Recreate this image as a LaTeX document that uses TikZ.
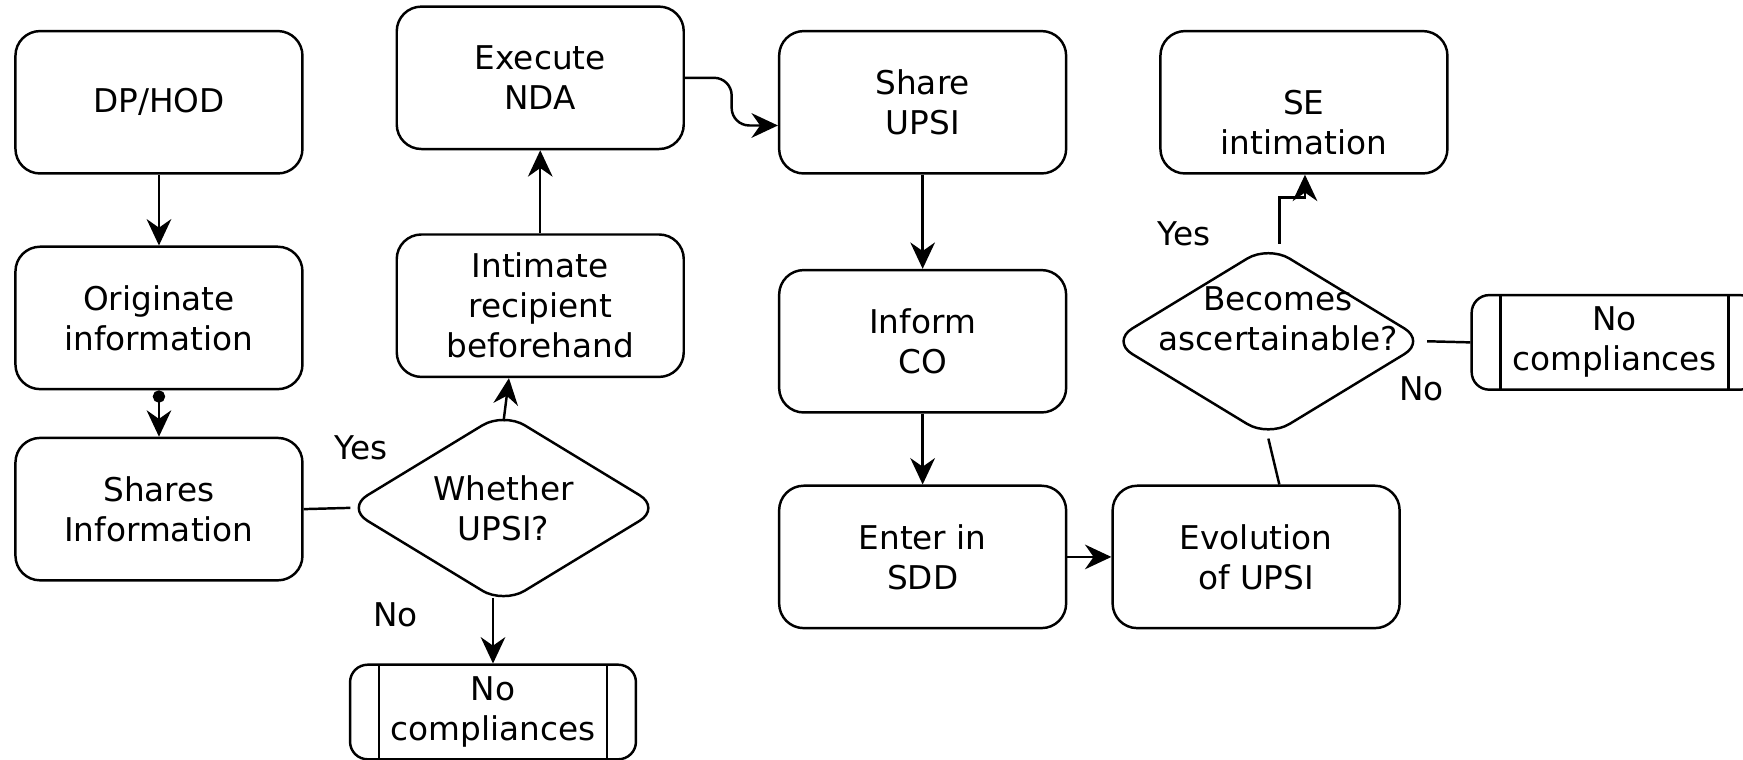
\documentclass[tikz,border=0pt]{standalone}
\usepackage{fontspec}
\setmainfont{DejaVu Sans}
\usetikzlibrary{shapes.geometric,arrows.meta}

\begin{document}
\begin{tikzpicture}[x=0.011116cm, y=-0.011116cm, line width=0.7pt,
        font=\fontsize{9.3}{11.4}\selectfont,
        box/.style={draw, rounded corners=7pt, minimum width=2.868cm, minimum height=1.423cm, inner sep=0pt, align=center},
        decision/.style={draw, diamond, rounded corners=7pt, minimum width=3.15cm, minimum height=1.92cm, inner sep=0pt, align=center},
        process/.style={draw, rounded corners=5pt, minimum width=2.857cm, minimum height=0.945cm, inner sep=0pt, align=center,
            path picture={\draw ([xshift=0.29cm]path picture bounding box.north west) -- ([xshift=0.29cm]path picture bounding box.south west)
                ([xshift=-0.29cm]path picture bounding box.north east) -- ([xshift=-0.29cm]path picture bounding box.south east);}},
        arr/.style={-{Stealth[length=7.5pt,width=7pt]}}]
    \useasboundingbox (0,0) rectangle (1568,683);
    \clip (0,0) rectangle (1568,683);

    % Left column
    \node[box] (dphod) at (143,92) {DP/HOD};
    \node[box] (originate) at (143,286) {Originate\\information};
    \node[box] (shares) at (143,458) {Shares\\Information};

    % Decision on UPSI
    \node[decision, label={[align=center]center:Whether\\UPSI?}] (whether) at (453,457) {};
    \node[process] (nocompA) at (443.5,640.5) {No\\compliances};
    \node[box] (intimate) at (486,275) {Intimate\\recipient\\beforehand};
    \node[box] (execute) at (486,70) {Execute\\NDA};

    % Middle column
    \node[box] (shareupsi) at (830,92) {Share\\UPSI};
    \node[box] (informco) at (830,307) {Inform\\CO};
    \node[box] (entersdd) at (830,501) {Enter in\\SDD};
    \node[box] (evolution) at (1130,501) {Evolution\\of UPSI};

    % Right part
    \node[decision, label={[align=center, xshift=2.8pt, yshift=6.3pt]center:Becomes\\ascertainable?}] (becomes) at (1141,307) {};
    \node[box, label={[align=center, yshift=-5.7pt]center:SE\\intimation}] (seint) at (1173,92) {};
    \node[process] (nocompB) at (1452.5,308) {No\\compliances};

    % Yes / No labels
    \node (yesA) at (325,403) {Yes};
    \node (noA) at (356,553) {No};
    \node (yesB) at (1065,210) {Yes};
    \node (noB) at (1279,350) {No};

    % Connectors
    \draw[arr] (dphod) -- (originate);
    \draw[{Circle[length=3.5pt]}-{Stealth[length=7.5pt,width=7pt]}] (originate) -- (shares);
    \draw[shorten >=-1.6pt] (shares.east) -- (whether.west);
    \draw[arr] ([yshift=-3pt]whether.north) -- ([xshift=-8.9pt]intimate.south);
    \draw[arr] (intimate) -- (execute);
    \draw[arr, rounded corners=5pt] (execute.east) -- ++(42,0) |- ([yshift=-6.6pt]shareupsi.west);
    \draw[arr, shorten <=-2pt] (nocompA.north |- whether.south) -- (nocompA.north);
    \draw[arr] (shareupsi) -- (informco);
    \draw[arr] (informco) -- (entersdd);
    \draw[arr] (entersdd) -- (evolution);
    \draw ([xshift=6.6pt]evolution.north) -- (becomes.south);
    \draw[arr] ([xshift=3.2pt]becomes.north) -- ++(0,-42) -| ([xshift=0.3pt]seint.south);
    \draw (becomes.east) -- (nocompB.west);
\end{tikzpicture}
\end{document}
